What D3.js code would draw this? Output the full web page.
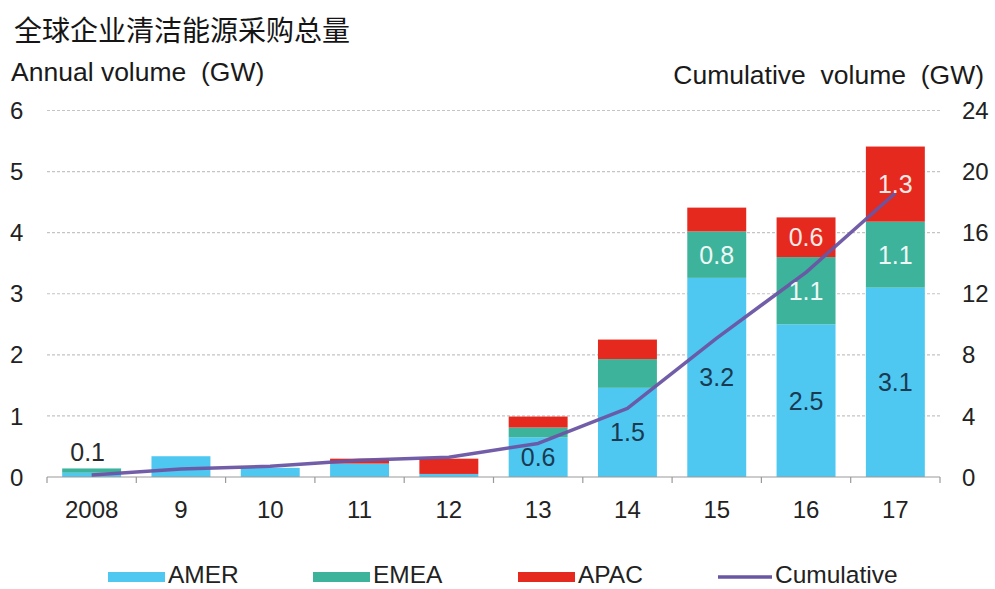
<!DOCTYPE html>
<html>
<head>
<meta charset="utf-8">
<script src="https://cdn.jsdelivr.net/npm/d3@7"></script>
<style>
  html, body { margin: 0; padding: 0; background: #fff; }
  svg { display: block; }
  text { font-family: "Liberation Sans", Arial, sans-serif; }
</style>
</head>
<body>
<svg id="chart" width="995" height="589"></svg>
<script>
// ---- data ----
const years = ["2008", "9", "10", "11", "12", "13", "14", "15", "16", "17"];
const amer = [0.07, 0.34, 0.15, 0.22, 0.05, 0.65, 1.46, 3.26, 2.5, 3.1];
const emea = [0.07, 0, 0, 0, 0, 0.16, 0.47, 0.76, 1.1, 1.08];
const apac = [0, 0, 0, 0.08, 0.25, 0.18, 0.32, 0.39, 0.65, 1.23];
const cumulative = [0.13, 0.52, 0.7, 1.1, 1.3, 2.2, 4.5, 9.1, 13.4, 18.6];
const amerLabels = [null, null, null, null, null, "0.6", "1.5", "3.2", "2.5", "3.1"];
const emeaLabels = [null, null, null, null, null, null, null, "0.8", "1.1", "1.1"];
const apacLabels = [null, null, null, null, null, null, null, null, "0.6", "1.3"];
const totalLabels = ["0.1", null, null, null, null, null, null, null, null, null];
const leftTicks = [0, 1, 2, 3, 4, 5, 6];
const rightTicks = [0, 4, 8, 12, 16, 20, 24];
const seriesNames = ["AMER", "EMEA", "APAC"];
const title = "全球企业清洁能源采购总量";
const leftTitle = "Annual volume  (GW)";
const rightTitle = "Cumulative  volume  (GW)";

const colors = { AMER: "#4ec8f1", EMEA: "#3db39c", APAC: "#e5291f" };
const lineColor = "#6a55a3";

const svg = d3.select("#chart");
const plotL = 47, plotR = 940, yBase = 477, yTop = 110.5;

const x = d3.scaleBand().domain(years).range([plotL, plotR]).paddingInner(0.34).paddingOuter(0.17);
const y = d3.scaleLinear().domain([0, 6]).range([yBase, yTop]);
const y2 = d3.scaleLinear().domain([0, 24]).range([yBase, yTop]);
const step = x.step();

// title
svg.append("text").attr("x", 14).attr("y", 41)
  .style("font-family", '"Noto Sans CJK SC", sans-serif')
  .attr("font-size", 28).attr("fill", "#151515").text(title);
svg.append("text").attr("x", 11).attr("y", 81).attr("font-size", 26.5)
  .attr("fill", "#1a1a1a").style("white-space", "pre").text(leftTitle);
svg.append("text").attr("x", 984).attr("y", 84).attr("font-size", 26.5)
  .attr("text-anchor", "end").attr("fill", "#1a1a1a").style("white-space", "pre").text(rightTitle);

// gridlines
svg.append("g").selectAll("line").data(leftTicks.filter(d => d > 0)).join("line")
  .attr("x1", plotL).attr("x2", plotR)
  .attr("y1", d => y(d)).attr("y2", d => y(d))
  .attr("stroke", "#c4c4c4").attr("stroke-width", 1.2).attr("stroke-dasharray", "3,2");

// left tick labels
svg.append("g").selectAll("text").data(leftTicks).join("text")
  .attr("x", 10).attr("y", d => y(d)).attr("dy", "0.36em")
  .attr("font-size", 24).attr("fill", "#222").text(d => d);
// right tick labels
svg.append("g").selectAll("text").data(rightTicks).join("text")
  .attr("x", 962).attr("y", d => y2(d)).attr("dy", "0.36em")
  .attr("font-size", 24).attr("fill", "#222").text(d => d);

// stacked bars
const table = years.map((yr, i) => ({ year: yr, AMER: amer[i], EMEA: emea[i], APAC: apac[i] }));
const stack = d3.stack().keys(seriesNames)(table);
const gBars = svg.append("g");
stack.forEach(layer => {
  gBars.append("g").attr("fill", colors[layer.key]).selectAll("rect").data(layer).join("rect")
    .attr("x", d => x(d.data.year))
    .attr("width", x.bandwidth())
    .attr("y", d => y(d[1]))
    .attr("height", d => Math.max(0, y(d[0]) - y(d[1])));
});

// baseline & ticks
svg.append("line").attr("x1", plotL).attr("x2", plotR).attr("y1", yBase).attr("y2", yBase)
  .attr("stroke", "#9a9a9a").attr("stroke-width", 1.2);
const boundaries = years.map(yr => x(yr) - step * 0.17).concat([plotR]);
svg.append("g").selectAll("line").data(boundaries).join("line")
  .attr("x1", d => d).attr("x2", d => d).attr("y1", yBase).attr("y2", yBase + 6)
  .attr("stroke", "#9a9a9a").attr("stroke-width", 1.2);

// x labels
svg.append("g").selectAll("text").data(years).join("text")
  .attr("x", d => x(d) + x.bandwidth() / 2).attr("y", 509).attr("dy", "0.36em")
  .attr("text-anchor", "middle").attr("font-size", 24).attr("fill", "#222").text(d => d);

// cumulative line
const line = d3.line().x((d, i) => x(years[i]) + x.bandwidth() / 2).y(d => y2(d));
svg.append("path").datum(cumulative).attr("d", line)
  .attr("fill", "none").attr("stroke", lineColor).attr("stroke-width", 3.5)
  .attr("stroke-linejoin", "round").attr("opacity", 0.95);

// bar value labels
const labelLayers = [
  { labels: amerLabels, layer: stack[0], fill: "#1b3a52" },
  { labels: emeaLabels, layer: stack[1], fill: "#eef7f5" },
  { labels: apacLabels, layer: stack[2], fill: "#fbe9e7" }
];
labelLayers.forEach(L => {
  svg.append("g").selectAll("text")
    .data(L.layer.map((d, i) => ({ d, t: L.labels[i], yr: years[i] })).filter(o => o.t))
    .join("text")
    .attr("x", o => x(o.yr) + x.bandwidth() / 2)
    .attr("y", o => (y(o.d[0]) + y(o.d[1])) / 2).attr("dy", "0.36em")
    .attr("text-anchor", "middle").attr("font-size", 25).attr("fill", L.fill).text(o => o.t);
});
svg.append("g").selectAll("text")
  .data(stack[2].map((d, i) => ({ d, t: totalLabels[i], yr: years[i] })).filter(o => o.t))
  .join("text")
  .attr("x", o => x(o.yr) + x.bandwidth() / 2 - 4)
  .attr("y", o => y(o.d[1]) - 16).attr("dy", "0.36em")
  .attr("text-anchor", "middle").attr("font-size", 25).attr("fill", "#2a2a2a").text(o => o.t);

// legend
const legendItems = [
  { name: "AMER", type: "rect", color: colors.AMER, x: 108 },
  { name: "EMEA", type: "rect", color: colors.EMEA, x: 313 },
  { name: "APAC", type: "rect", color: colors.APAC, x: 518 },
  { name: "Cumulative", type: "line", color: lineColor, x: 718 }
];
const lg = svg.append("g").selectAll("g").data(legendItems).join("g");
lg.filter(d => d.type === "rect").append("rect")
  .attr("x", d => d.x).attr("y", 572).attr("width", 57).attr("height", 10).attr("fill", d => d.color);
lg.filter(d => d.type === "line").append("line")
  .attr("x1", d => d.x).attr("x2", d => d.x + 54).attr("y1", 577).attr("y2", 577)
  .attr("stroke", d => d.color).attr("stroke-width", 3.5);
lg.append("text").attr("x", d => d.x + (d.type === "rect" ? 60 : 57)).attr("y", 583)
  .attr("font-size", 24.5).attr("fill", "#222").text(d => d.name);
</script>
</body>
</html>
